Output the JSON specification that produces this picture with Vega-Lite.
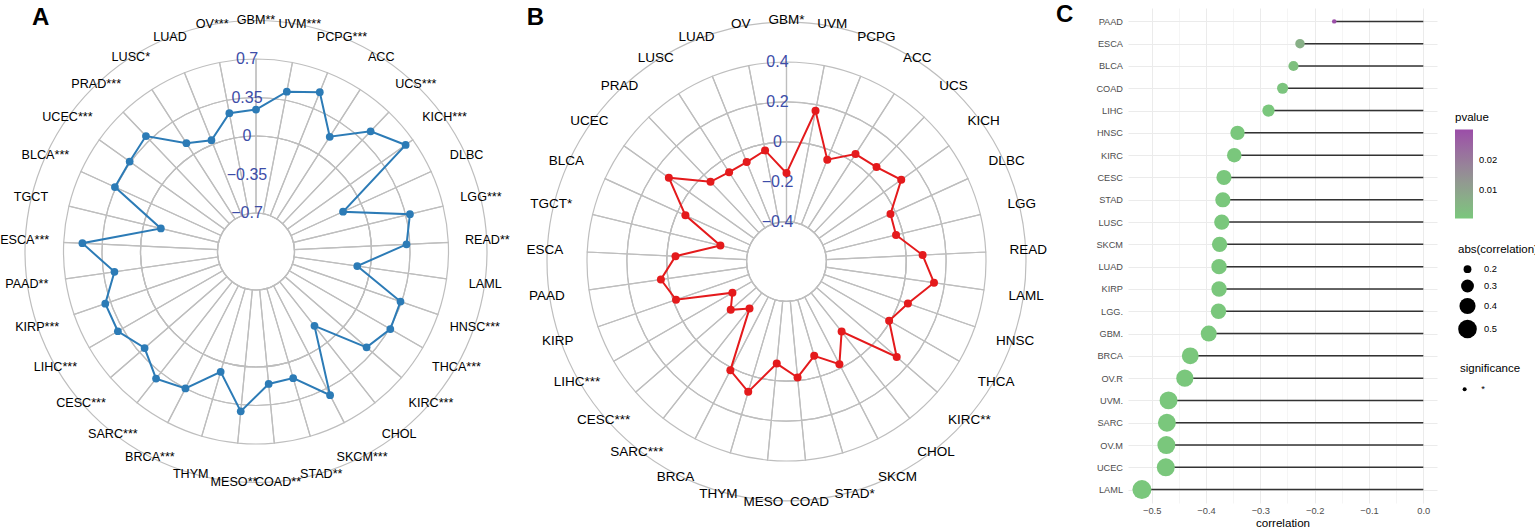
{
  "$schema": "https://vega.github.io/schema/vega-lite/v6.json",
  "autosize": {"type": "pad"},
  "padding": 0,
  "background": "white",
  "spacing": 0,
  "bounds": "flush",
  "config": {
    "view": {"stroke": null},
    "font": "Liberation Sans",
    "text": {"font": "Liberation Sans"},
    "axis": {"labelFont": "Liberation Sans", "titleFont": "Liberation Sans"},
    "legend": {"labelFont": "Liberation Sans", "titleFont": "Liberation Sans"}
  },
  "datasets": {
    "radarA": [
      {"i": 0, "cancer": "GBM", "label": "GBM**", "v": 0.24},
      {"i": 1, "cancer": "UVM", "label": "UVM***", "v": 0.43},
      {"i": 2, "cancer": "PCPG", "label": "PCPG***", "v": 0.51},
      {"i": 3, "cancer": "ACC", "label": "ACC", "v": 0.19},
      {"i": 4, "cancer": "UCS", "label": "UCS***", "v": 0.46},
      {"i": 5, "cancer": "KICH", "label": "KICH***", "v": 0.62},
      {"i": 6, "cancer": "DLBC", "label": "DLBC", "v": -0.18},
      {"i": 7, "cancer": "LGG", "label": "LGG***", "v": 0.39},
      {"i": 8, "cancer": "READ", "label": "READ**", "v": 0.32},
      {"i": 9, "cancer": "LAML", "label": "LAML", "v": -0.12},
      {"i": 10, "cancer": "HNSC", "label": "HNSC***", "v": 0.34},
      {"i": 11, "cancer": "THCA", "label": "THCA***", "v": 0.36},
      {"i": 12, "cancer": "KIRC", "label": "KIRC***", "v": 0.28},
      {"i": 13, "cancer": "CHOL", "label": "CHOL", "v": -0.19},
      {"i": 14, "cancer": "SKCM", "label": "SKCM***", "v": 0.42},
      {"i": 15, "cancer": "STAD", "label": "STAD**", "v": 0.15},
      {"i": 16, "cancer": "COAD", "label": "COAD**", "v": 0.16},
      {"i": 17, "cancer": "MESO", "label": "MESO**", "v": 0.41},
      {"i": 18, "cancer": "THYM", "label": "THYM", "v": 0.09},
      {"i": 19, "cancer": "BRCA", "label": "BRCA***", "v": 0.35},
      {"i": 20, "cancer": "SARC", "label": "SARC***", "v": 0.42},
      {"i": 21, "cancer": "CESC", "label": "CESC***", "v": 0.29},
      {"i": 22, "cancer": "LIHC", "label": "LIHC***", "v": 0.40},
      {"i": 23, "cancer": "KIRP", "label": "KIRP***", "v": 0.40},
      {"i": 24, "cancer": "PAAD", "label": "PAAD**", "v": 0.25},
      {"i": 25, "cancer": "ESCA", "label": "ESCA***", "v": 0.53},
      {"i": 26, "cancer": "TGCT", "label": "TGCT", "v": -0.16},
      {"i": 27, "cancer": "BLCA", "label": "BLCA***", "v": 0.36},
      {"i": 28, "cancer": "UCEC", "label": "UCEC***", "v": 0.36},
      {"i": 29, "cancer": "PRAD", "label": "PRAD***", "v": 0.40},
      {"i": 30, "cancer": "LUSC", "label": "LUSC*", "v": 0.12},
      {"i": 31, "cancer": "LUAD", "label": "LUAD", "v": 0.04},
      {"i": 32, "cancer": "OV", "label": "OV***", "v": 0.23}
    ],
    "radarB": [
      {"i": 0, "cancer": "GBM", "label": "GBM*", "v": -0.157},
      {"i": 1, "cancer": "UVM", "label": "UVM", "v": 0.169},
      {"i": 2, "cancer": "PCPG", "label": "PCPG", "v": -0.05},
      {"i": 3, "cancer": "ACC", "label": "ACC", "v": 0.04},
      {"i": 4, "cancer": "UCS", "label": "UCS", "v": 0.054},
      {"i": 5, "cancer": "KICH", "label": "KICH", "v": 0.106},
      {"i": 6, "cancer": "DLBC", "label": "DLBC", "v": -0.027},
      {"i": 7, "cancer": "LGG", "label": "LGG", "v": -0.035},
      {"i": 8, "cancer": "READ", "label": "READ", "v": 0.083},
      {"i": 9, "cancer": "LAML", "label": "LAML", "v": 0.147},
      {"i": 10, "cancer": "HNSC", "label": "HNSC", "v": 0.044},
      {"i": 11, "cancer": "THCA", "label": "THCA", "v": -0.006},
      {"i": 12, "cancer": "KIRC", "label": "KIRC**", "v": 0.131},
      {"i": 13, "cancer": "CHOL", "label": "CHOL", "v": -0.153},
      {"i": 14, "cancer": "SKCM", "label": "SKCM", "v": -0.021},
      {"i": 15, "cancer": "STAD", "label": "STAD*", "v": -0.107},
      {"i": 16, "cancer": "COAD", "label": "COAD", "v": -0.016},
      {"i": 17, "cancer": "MESO", "label": "MESO", "v": -0.086},
      {"i": 18, "cancer": "THYM", "label": "THYM", "v": 0.081},
      {"i": 19, "cancer": "BRCA", "label": "BRCA", "v": 0.014},
      {"i": 20, "cancer": "SARC", "label": "SARC***", "v": -0.30},
      {"i": 21, "cancer": "CESC", "label": "CESC***", "v": -0.23},
      {"i": 22, "cancer": "LIHC", "label": "LIHC***", "v": -0.287},
      {"i": 23, "cancer": "KIRP", "label": "KIRP", "v": -0.014},
      {"i": 24, "cancer": "PAAD", "label": "PAAD", "v": 0.036},
      {"i": 25, "cancer": "ESCA", "label": "ESCA", "v": -0.043},
      {"i": 26, "cancer": "TGCT", "label": "TGCT*", "v": -0.259},
      {"i": 27, "cancer": "BLCA", "label": "BLCA", "v": -0.043},
      {"i": 28, "cancer": "UCEC", "label": "UCEC", "v": 0.124},
      {"i": 29, "cancer": "PRAD", "label": "PRAD", "v": -0.048},
      {"i": 30, "cancer": "LUSC", "label": "LUSC", "v": -0.068},
      {"i": 31, "cancer": "LUAD", "label": "LUAD", "v": -0.063},
      {"i": 32, "cancer": "OV", "label": "OV", "v": -0.033}
    ],
    "ticksA": [{"t": -0.7}, {"t": -0.35}, {"t": 0}, {"t": 0.35}, {"t": 0.7}],
    "ticksB": [{"t": -0.4}, {"t": -0.2}, {"t": 0}, {"t": 0.2}, {"t": 0.4}],
    "lolli": [
      {"cancer": "PAAD", "correlation": -0.164, "abscor": 0.164, "pvalue": 0.0299, "significance": "*"},
      {"cancer": "ESCA", "correlation": -0.227, "abscor": 0.227, "pvalue": 0.0065, "significance": "*"},
      {"cancer": "BLCA", "correlation": -0.239, "abscor": 0.239, "pvalue": 0.0022, "significance": "*"},
      {"cancer": "COAD", "correlation": -0.259, "abscor": 0.259, "pvalue": 0.0012, "significance": "*"},
      {"cancer": "LIHC", "correlation": -0.285, "abscor": 0.285, "pvalue": 0.0005, "significance": "*"},
      {"cancer": "HNSC", "correlation": -0.342, "abscor": 0.342, "pvalue": 0.00001, "significance": "*"},
      {"cancer": "KIRC", "correlation": -0.348, "abscor": 0.348, "pvalue": 0.00001, "significance": "*"},
      {"cancer": "CESC", "correlation": -0.367, "abscor": 0.367, "pvalue": 0.00001, "significance": "*"},
      {"cancer": "STAD", "correlation": -0.369, "abscor": 0.369, "pvalue": 0.00001, "significance": "*"},
      {"cancer": "LUSC", "correlation": -0.371, "abscor": 0.371, "pvalue": 0.00001, "significance": "*"},
      {"cancer": "SKCM", "correlation": -0.375, "abscor": 0.375, "pvalue": 0.00001, "significance": "*"},
      {"cancer": "LUAD", "correlation": -0.376, "abscor": 0.376, "pvalue": 0.00001, "significance": "*"},
      {"cancer": "KIRP", "correlation": -0.376, "abscor": 0.376, "pvalue": 0.00001, "significance": "*"},
      {"cancer": "LGG.", "correlation": -0.377, "abscor": 0.377, "pvalue": 0.00001, "significance": "*"},
      {"cancer": "GBM.", "correlation": -0.395, "abscor": 0.395, "pvalue": 0.00001, "significance": "*"},
      {"cancer": "BRCA", "correlation": -0.429, "abscor": 0.429, "pvalue": 0.00001, "significance": "*"},
      {"cancer": "OV.R", "correlation": -0.439, "abscor": 0.439, "pvalue": 0.00001, "significance": "*"},
      {"cancer": "UVM.", "correlation": -0.469, "abscor": 0.469, "pvalue": 0.00001, "significance": "*"},
      {"cancer": "SARC", "correlation": -0.472, "abscor": 0.472, "pvalue": 0.00001, "significance": "*"},
      {"cancer": "OV.M", "correlation": -0.473, "abscor": 0.473, "pvalue": 0.00001, "significance": "*"},
      {"cancer": "UCEC", "correlation": -0.474, "abscor": 0.474, "pvalue": 0.00001, "significance": "*"},
      {"cancer": "LAML", "correlation": -0.518, "abscor": 0.518, "pvalue": 0.00001, "significance": "*"}
    ]
  },
  "hconcat": [
    {
      "width": 512,
      "height": 503,
      "layer": [
        {
          "data": {"name": "radarA"},
          "mark": {"type": "arc", "filled": false, "stroke": "#BEBEBE", "strokeWidth": 1.2},
          "encoding": {
            "theta": {"aggregate": "count", "type": "quantitative", "stack": true, "scale": {"domain": [0, 33]}},
            "detail": {"field": "cancer", "type": "nominal"},
            "radius": {"datum": 0.7, "type": "quantitative", "scale": {"type": "linear", "domain": [-1.05, 1.05], "range": [0, 231], "zero": false, "nice": false}},
            "radius2": {"datum": -0.7}
          }
        },
        {
          "data": {"name": "ticksA"},
          "mark": {"type": "arc", "filled": false, "stroke": "#BEBEBE", "strokeWidth": 1.2, "theta": 0, "theta2": 6.2832},
          "encoding": {"radius": {"field": "t", "type": "quantitative"}}
        },
        {
          "data": {"name": "ticksA"},
          "mark": {"type": "text", "color": "#3D4DA8", "fontSize": 16, "dx": -9, "align": "center", "baseline": "middle"},
          "encoding": {
            "theta": {"datum": 0, "type": "quantitative"},
            "radius": {"field": "t", "type": "quantitative"},
            "text": {"field": "t", "type": "quantitative", "format": ".2~f"}
          }
        },
        {
          "data": {"name": "radarA"},
          "mark": {"type": "text", "fontSize": 12.6, "color": "black", "align": "center", "baseline": "middle", "clip": true},
          "encoding": {
            "theta": {"field": "i", "type": "quantitative"},
            "radius": {"datum": 1.055, "type": "quantitative"},
            "text": {"field": "label", "type": "nominal"}
          }
        },
        {
          "data": {"name": "radarA"},
          "transform": [
            {"calculate": "datum.v + 1.05", "as": "r"},
            {"calculate": "datum.r * sin(2 * PI * datum.i / 33)", "as": "px"},
            {"calculate": "datum.r * cos(2 * PI * datum.i / 33)", "as": "py"}
          ],
          "mark": {"type": "line", "color": "#2C7BB6", "strokeWidth": 2, "interpolate": "linear-closed"},
          "encoding": {
            "x": {"field": "px", "type": "quantitative", "scale": {"domain": [-2.3273, 2.3273], "nice": false, "zero": false}, "axis": null},
            "y": {"field": "py", "type": "quantitative", "scale": {"domain": [-2.2864, 2.2864], "nice": false, "zero": false}, "axis": null},
            "order": {"field": "i", "type": "quantitative"}
          }
        },
        {
          "data": {"name": "radarA"},
          "transform": [
            {"calculate": "datum.v + 1.05", "as": "r"},
            {"calculate": "datum.r * sin(2 * PI * datum.i / 33)", "as": "px"},
            {"calculate": "datum.r * cos(2 * PI * datum.i / 33)", "as": "py"}
          ],
          "mark": {"type": "circle", "color": "#2C7BB6", "size": 60, "opacity": 1},
          "encoding": {
            "x": {"field": "px", "type": "quantitative", "axis": null},
            "y": {"field": "py", "type": "quantitative", "axis": null}
          }
        },
        {
          "data": {"values": [{"panel": "A"}]},
          "mark": {"type": "text", "fontSize": 24, "fontWeight": "bold", "color": "black", "align": "left", "baseline": "alphabetic"},
          "encoding": {
            "x": {"datum": -2.036, "type": "quantitative"},
            "y": {"datum": 2.059, "type": "quantitative"},
            "text": {"field": "panel", "type": "nominal"}
          }
        }
      ]
    },
    {
      "width": 616,
      "height": 523,
      "layer": [
        {
          "data": {"name": "radarB"},
          "mark": {"type": "arc", "filled": false, "stroke": "#BEBEBE", "strokeWidth": 1.2},
          "encoding": {
            "x": {"datum": 0, "type": "quantitative", "scale": {"domain": [-1.3759, 1.7118], "nice": false, "zero": false}, "axis": null},
            "y": {"datum": 0, "type": "quantitative", "scale": {"domain": [-1.3108, 1.3108], "nice": false, "zero": false}, "axis": null},
            "theta": {"aggregate": "count", "type": "quantitative", "stack": true, "scale": {"domain": [0, 33]}},
            "detail": {"field": "cancer", "type": "nominal"},
            "radius": {"datum": 0.4, "type": "quantitative", "scale": {"type": "linear", "domain": [-0.6, 0.6], "range": [0, 239.4], "zero": false, "nice": false}},
            "radius2": {"datum": -0.4}
          }
        },
        {
          "data": {"name": "ticksB"},
          "mark": {"type": "arc", "filled": false, "stroke": "#BEBEBE", "strokeWidth": 1.2, "theta": 0, "theta2": 6.2832},
          "encoding": {
            "x": {"datum": 0, "type": "quantitative"},
            "y": {"datum": 0, "type": "quantitative"},
            "radius": {"field": "t", "type": "quantitative"}
          }
        },
        {
          "data": {"name": "ticksB"},
          "mark": {"type": "text", "color": "#3D4DA8", "fontSize": 16, "dx": -9, "align": "center", "baseline": "middle"},
          "encoding": {
            "x": {"datum": 0, "type": "quantitative"},
            "y": {"datum": 0, "type": "quantitative"},
            "theta": {"datum": 0, "type": "quantitative"},
            "radius": {"field": "t", "type": "quantitative"},
            "text": {"field": "t", "type": "quantitative", "format": ".2~f"}
          }
        },
        {
          "data": {"name": "radarB"},
          "mark": {"type": "text", "fontSize": 13.5, "color": "black", "align": "center", "baseline": "middle", "clip": true},
          "encoding": {
            "x": {"datum": 0, "type": "quantitative"},
            "y": {"datum": 0, "type": "quantitative"},
            "theta": {"field": "i", "type": "quantitative"},
            "radius": {"datum": 0.613, "type": "quantitative"},
            "text": {"field": "label", "type": "nominal"}
          }
        },
        {
          "data": {"name": "radarB"},
          "transform": [
            {"calculate": "datum.v + 0.6", "as": "r"},
            {"calculate": "datum.r * sin(2 * PI * datum.i / 33)", "as": "px"},
            {"calculate": "datum.r * cos(2 * PI * datum.i / 33)", "as": "py"}
          ],
          "mark": {"type": "line", "color": "#E41A1C", "strokeWidth": 2, "interpolate": "linear-closed"},
          "encoding": {
            "x": {"field": "px", "type": "quantitative"},
            "y": {"field": "py", "type": "quantitative"},
            "order": {"field": "i", "type": "quantitative"}
          }
        },
        {
          "data": {"name": "radarB"},
          "transform": [
            {"calculate": "datum.v + 0.6", "as": "r"},
            {"calculate": "datum.r * sin(2 * PI * datum.i / 33)", "as": "px"},
            {"calculate": "datum.r * cos(2 * PI * datum.i / 33)", "as": "py"}
          ],
          "mark": {"type": "circle", "color": "#E41A1C", "size": 64, "opacity": 1},
          "encoding": {
            "x": {"field": "px", "type": "quantitative"},
            "y": {"field": "py", "type": "quantitative"}
          }
        },
        {
          "data": {"values": [{"panel": "B", "px": -1.302, "py": 1.1855}, {"panel": "C", "px": 1.351, "py": 1.2005}]},
          "mark": {"type": "text", "fontSize": 24, "fontWeight": "bold", "color": "black", "align": "left", "baseline": "alphabetic"},
          "encoding": {
            "x": {"field": "px", "type": "quantitative"},
            "y": {"field": "py", "type": "quantitative"},
            "text": {"field": "panel", "type": "nominal"}
          }
        }
      ]
    },
    {
      "vconcat": [
        {"width": 10, "height": 8, "data": {"values": [{"a": 1}]}, "mark": {"type": "point", "opacity": 0}},
        {
          "width": 309,
          "height": 495,
          "data": {"name": "lolli"},
          "encoding": {
            "y": {
              "field": "cancer", "type": "nominal",
              "sort": ["PAAD", "ESCA", "BLCA", "COAD", "LIHC", "HNSC", "KIRC", "CESC", "STAD", "LUSC", "SKCM", "LUAD", "KIRP", "LGG.", "GBM.", "BRCA", "OV.R", "UVM.", "SARC", "OV.M", "UCEC", "LAML"],
              "scale": {"type": "point", "padding": 0.6},
              "axis": {"title": null, "ticks": false, "domain": false, "grid": true, "gridColor": "#EBEBEB", "gridWidth": 1, "labelFontSize": 9.2, "labelColor": "#4D4D4D", "labelPadding": 5.5}
            }
          },
          "layer": [
            {
              "mark": {"type": "rule", "color": "#333333", "strokeWidth": 1.5},
              "encoding": {
                "x": {
                  "field": "correlation", "type": "quantitative",
                  "scale": {"domain": [-0.5436, 0.0252], "nice": false, "zero": false},
                  "axis": {"orient": "bottom", "values": [-0.55, -0.45, -0.35, -0.25, -0.15, -0.05], "labels": false, "ticks": false, "domain": false, "title": null, "grid": true, "gridColor": "#F1F1F1", "gridWidth": 0.7}
                },
                "x2": {"datum": 0}
              }
            },
            {
              "mark": {"type": "point", "filled": true, "opacity": 1},
              "encoding": {
                "x": {
                  "field": "correlation", "type": "quantitative",
                  "axis": {"orient": "bottom", "values": [-0.5, -0.4, -0.3, -0.2, -0.1, 0], "format": ".1f", "grid": true, "gridColor": "#EBEBEB", "gridWidth": 1, "ticks": false, "domain": false, "labelFontSize": 9.3, "labelColor": "#4D4D4D", "labelPadding": 3.5, "title": "correlation", "titleFontSize": 11.6, "titleFontWeight": "normal", "titleColor": "black", "titlePadding": 2}
                },
                "size": {
                  "field": "abscor", "type": "quantitative",
                  "scale": {"type": "pow", "exponent": 0.7, "domain": [0.164, 0.518], "range": [20, 361], "zero": false},
                  "legend": {"title": "abs(correlation)", "orient": "none", "legendX": 1458, "legendY": 244, "values": [0.2, 0.3, 0.4, 0.5], "symbolFillColor": "black", "symbolStrokeWidth": 0, "symbolType": "circle", "labelOffset": 7, "rowPadding": 5, "titlePadding": 9, "labelFontSize": 9.3, "labelColor": "black", "titleFontSize": 11.5, "titleFontWeight": "normal", "titleColor": "black", "padding": 0}
                },
                "color": {
                  "field": "pvalue", "type": "quantitative",
                  "scale": {"domain": [0.0004, 0.03], "range": ["#7AC77C", "#9B4DA8"], "interpolate": "lab", "clamp": true},
                  "legend": {"title": "pvalue", "orient": "none", "legendX": 1455, "legendY": 112, "direction": "vertical", "gradientLength": 89, "gradientThickness": 18, "values": [0.01, 0.02], "labelFontSize": 9.3, "labelColor": "black", "labelOffset": 6, "titleFontSize": 11.5, "titleFontWeight": "normal", "titleColor": "black", "titlePadding": 6, "gradientStrokeWidth": 0, "padding": 0}
                },
                "shape": {
                  "field": "significance", "type": "nominal",
                  "scale": {"range": ["circle"]},
                  "legend": {"title": "significance", "orient": "none", "legendX": 1460, "legendY": 363, "symbolSize": 16, "symbolFillColor": "black", "symbolStrokeWidth": 0, "labelOffset": 12, "titlePadding": 10, "labelFontSize": 9.3, "labelColor": "black", "titleFontSize": 11.5, "titleFontWeight": "normal", "titleColor": "black", "padding": 0}
                }
              }
            }
          ],
          "resolve": {"axis": {"x": "independent"}}
        }
      ],
      "spacing": 0,
      "bounds": "flush"
    }
  ]
}
